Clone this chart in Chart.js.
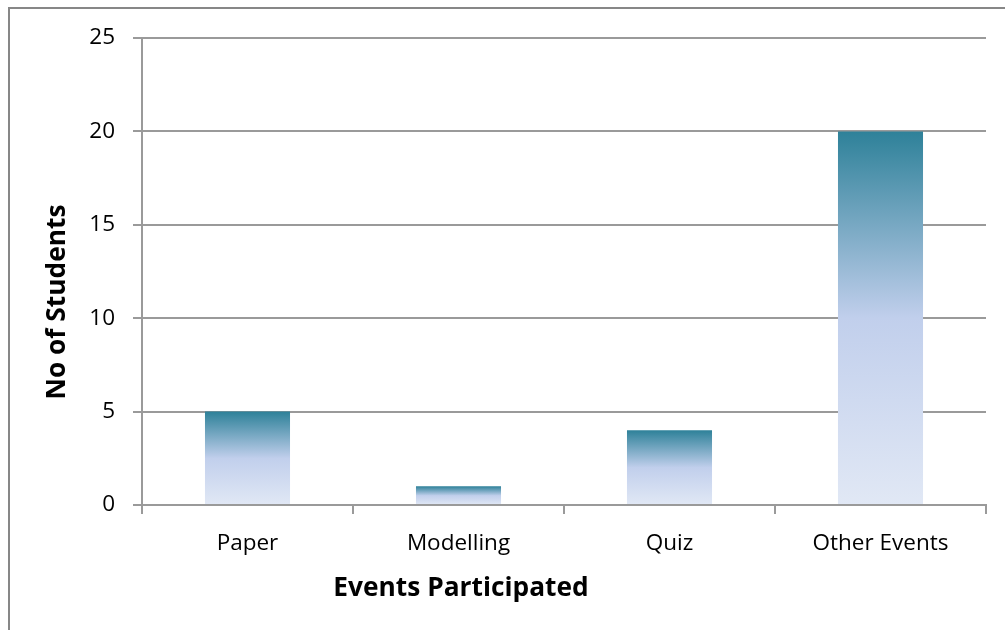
<!DOCTYPE html>
<html>
<head>
<meta charset="utf-8">
<script src="https://cdn.jsdelivr.net/npm/chart.js@4/dist/chart.umd.min.js"></script>
<style>
html, body { margin: 0; padding: 0; background: #fff; }
canvas { display: block; }
</style>
</head>
<body>
<canvas id="events-graph" width="1005" height="630"></canvas>
<script>
var categories = ['Paper', 'Modelling', 'Quiz', 'Other Events'];
var students = [5, 1, 4, 20];
var yTicks = [0, 5, 10, 15, 20, 25];
var xTitle = 'Events Participated';
var yTitle = 'No of Students';

// each bar gets its own top-to-bottom fade, like the Excel fill
function barGradient(context) {
    var chart = context.chart;
    if (!chart.chartArea) return '#c1cfec';
    var y = chart.scales.y;
    var top = y.getPixelForValue(context.raw);
    var base = y.getPixelForValue(0);
    var g = chart.ctx.createLinearGradient(0, top, 0, base);
    g.addColorStop(0, '#2e8199');
    g.addColorStop(0.5, '#c1cfec');
    g.addColorStop(1, '#e1e8f5');
    return g;
}

var frame = {
    id: 'frame',
    beforeDraw: function (chart) {
        var ctx = chart.ctx;
        ctx.save();
        ctx.strokeStyle = '#878787';
        ctx.lineWidth = 2;
        ctx.beginPath();
        ctx.moveTo(9, 630);
        ctx.lineTo(9, 8);
        ctx.lineTo(1005, 8);
        ctx.stroke();
        ctx.restore();
    }
};

var axisTitles = {
    id: 'axisTitles',
    afterDraw: function (chart) {
        var ctx = chart.ctx;
        ctx.save();
        ctx.fillStyle = '#000';
        ctx.font = 'bold 26.3px "Open Sans"';
        ctx.textAlign = 'center';
        ctx.textBaseline = 'alphabetic';
        ctx.fillText(xTitle, 461, 596);
        ctx.translate(65, 302);
        ctx.rotate(-Math.PI / 2);
        ctx.fillText(yTitle, 0, 0);
        ctx.restore();
    }
};

Chart.defaults.font.family = '"Open Sans"';
Chart.defaults.font.size = 22.5;
Chart.defaults.color = '#000';

var ctx = document.getElementById('events-graph').getContext('2d');
var myChart = new Chart(ctx, {
    type: 'bar',
    data: {
        labels: categories,
        datasets: [{
            label: 'No of Students',
            data: students,
            backgroundColor: barGradient,
            borderWidth: 0,
            categoryPercentage: 1,
            barPercentage: 0.403
        }]
    },
    options: {
        responsive: false,
        animation: false,
        layout: {
            padding: { left: 0, top: 38, right: 19, bottom: 0 }
        },
        scales: {
            x: {
                afterFit: function (scale) { scale.height = 125; },
                grid: {
                    offset: true,
                    drawOnChartArea: false,
                    tickLength: 9,
                    color: '#9a9a9a',
                    lineWidth: 2
                },
                border: { color: '#9a9a9a', width: 2 },
                ticks: { padding: 16, maxRotation: 0 }
            },
            y: {
                min: 0,
                max: 25,
                afterFit: function (scale) { scale.width = 142; },
                afterBuildTicks: function (scale) {
                    scale.ticks = yTicks.map(function (v) { return { value: v }; });
                },
                grid: {
                    tickLength: 9,
                    color: '#9a9a9a',
                    lineWidth: 2
                },
                border: { color: '#9a9a9a', width: 2 },
                ticks: { padding: 18 }
            }
        },
        plugins: {
            legend: { display: false },
            tooltip: { enabled: false }
        }
    },
    plugins: [frame, axisTitles]
});
</script>
</body>
</html>
